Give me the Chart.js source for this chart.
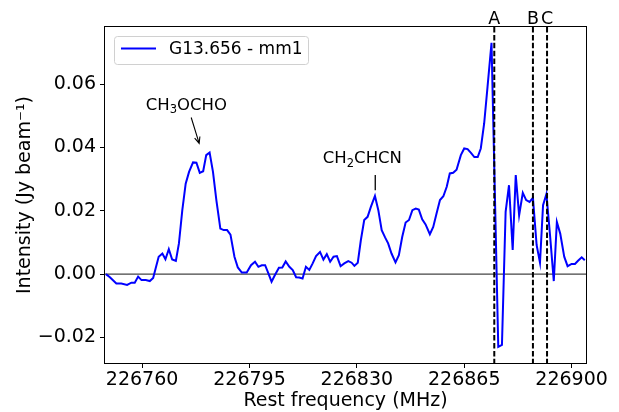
<!DOCTYPE html>
<html>
<head>
<meta charset="utf-8">
<script src="https://cdn.jsdelivr.net/npm/chart.js@4/dist/chart.umd.min.js"></script>
<style>
  body { margin: 0; background: #fff; }
  canvas { display: block; }
</style>
</head>
<body>
<canvas id="chart" width="619" height="412"></canvas>
<script>
// spectrum (MHz, Jy/beam)
const freqs = [
  226748.2, 226749.5, 226751.6, 226753.2, 226755.1, 226756.5, 226757.6, 226758.7, 226759.8, 226761.2,
  226762.5, 226763.6, 226764.4, 226765.4, 226766.6, 226767.6, 226768.7, 226769.8, 226771.0, 226772.0,
  226773.1, 226774.2, 226775.3, 226776.6, 226777.7, 226778.8, 226779.9, 226780.9, 226782.0, 226783.1,
  226784.2, 226785.5, 226786.6, 226787.7, 226788.8, 226790.1, 226791.2, 226792.5, 226794.1, 226795.5,
  226796.8, 226797.9, 226799.0, 226800.1, 226801.1, 226802.2, 226803.3, 226804.6, 226805.7, 226806.8,
  226808.0, 226809.1, 226810.2, 226811.2, 226812.3, 226813.4, 226814.5, 226815.6, 226816.7, 226818.0,
  226819.1, 226820.2, 226821.3, 226822.4, 226823.5, 226824.7, 226825.9, 226827.2, 226828.3, 226829.2,
  226830.3, 226831.3, 226832.4, 226833.5, 226834.6, 226835.9, 226837.0, 226838.1, 226839.2, 226840.2,
  226841.3, 226842.6, 226843.7, 226844.8, 226845.9, 226847.0, 226848.1, 226849.2, 226850.2, 226851.3,
  226852.4, 226853.8, 226854.9, 226856.0, 226857.1, 226858.2, 226859.3, 226860.3, 226861.4, 226862.5,
  226863.9, 226865.0, 226866.1, 226867.2, 226868.3, 226869.4, 226870.4, 226871.5, 226872.6, 226873.9,
  226876.1, 226877.3, 226878.5, 226879.6, 226880.8, 226881.8, 226882.9, 226884.1, 226885.2, 226886.3,
  226887.4, 226888.6, 226889.7, 226890.7, 226891.8, 226893.0, 226894.2, 226895.2, 226896.3, 226897.6,
  226898.7, 226900.0, 226901.1, 226902.1, 226903.3, 226904.3
];
const intensity = [
  0.0000, -0.0010, -0.0030, -0.0030, -0.0034, -0.0027, -0.0027, -0.0008, -0.0019, -0.0019,
  -0.0022, -0.0012, 0.0018, 0.0055, 0.0065, 0.0047, 0.0079, 0.0046, 0.0042, 0.0097,
  0.0202, 0.0286, 0.0323, 0.0353, 0.0352, 0.0320, 0.0325, 0.0376, 0.0384, 0.0323,
  0.0234, 0.0144, 0.0139, 0.0139, 0.0125, 0.0055, 0.0021, 0.0005, 0.0005, 0.0028,
  0.0039, 0.0023, 0.0028, 0.0028, 0.0004, -0.0024, -0.0003, 0.0020, 0.0021, 0.0040,
  0.0023, 0.0013, -0.0010, -0.0011, -0.0014, 0.0023, 0.0013, 0.0034, 0.0057, 0.0070,
  0.0046, 0.0063, 0.0039, 0.0055, 0.0057, 0.0025, 0.0034, 0.0041, 0.0036, 0.0026,
  0.0036, 0.0107, 0.0171, 0.0181, 0.0213, 0.0247, 0.0202, 0.0139, 0.0116, 0.0097,
  0.0065, 0.0037, 0.0060, 0.0118, 0.0163, 0.0171, 0.0202, 0.0207, 0.0204, 0.0173,
  0.0157, 0.0126, 0.0149, 0.0192, 0.0234, 0.0246, 0.0276, 0.0318, 0.0320, 0.0330,
  0.0376, 0.0397, 0.0395, 0.0383, 0.0370, 0.0370, 0.0397, 0.0476, 0.0592, 0.0731,
  -0.0230, -0.0224, 0.0197, 0.0281, 0.0076, 0.0313, 0.0186, 0.0257, 0.0234, 0.0228,
  0.0241, 0.0092, 0.0036, 0.0218, 0.0253, 0.0120, -0.0022, 0.0165, 0.0128, 0.0055,
  0.0025, 0.0032, 0.0032, 0.0042, 0.0053, 0.0044
];

const xTicks = [226760, 226795, 226830, 226865, 226900];
const xTickLabels = ["226760", "226795", "226830", "226865", "226900"];
const yTicks = [-0.02, 0, 0.02, 0.04, 0.06];
const yTickLabels = ["\u22120.02", "0.00", "0.02", "0.04", "0.06"];

// dashed marker lines
const markerFreqs = [226874.8, 226887.4, 226892.0];
const markerLabels = ["A", "B", "C"];

const seriesName = "G13.656 - mm1";

const FONT = "'DejaVu Sans', sans-serif";

// text with subscripts, centred on cx
function drawChem(ctx, parts, cx, baseY, size) {
    let w = 0;
    parts.forEach(p => {
        ctx.font = (p[1] ? size * 0.7 : size) + "px " + FONT;
        w += ctx.measureText(p[0]).width;
    });
    let xPos = cx - w / 2;
    ctx.textAlign = "left";
    ctx.textBaseline = "alphabetic";
    parts.forEach(p => {
        ctx.font = (p[1] ? size * 0.7 : size) + "px " + FONT;
        ctx.fillText(p[0], xPos, baseY + (p[1] ? size * 0.22 : 0));
        xPos += ctx.measureText(p[0]).width;
    });
}

const extras = {
    id: "extras",
    beforeDatasetsDraw(chart) {
        const {ctx, chartArea: a, scales: {y}} = chart;
        ctx.save();
        ctx.strokeStyle = "#444";
        ctx.lineWidth = 1.2;
        const y0 = y.getPixelForValue(0);
        ctx.beginPath();
        ctx.moveTo(a.left, y0);
        ctx.lineTo(a.right, y0);
        ctx.stroke();
        ctx.restore();
    },
    afterDatasetsDraw(chart) {
        const {ctx, chartArea: a, scales: {x, y}} = chart;
        ctx.save();

        // marker lines
        ctx.strokeStyle = "#000";
        ctx.lineWidth = 2;
        ctx.setLineDash([5.5, 2.4]);
        markerFreqs.forEach((f, i) => {
            const px = x.getPixelForValue(f);
            ctx.beginPath();
            ctx.moveTo(px, a.top);
            ctx.lineTo(px, a.bottom);
            ctx.stroke();
            ctx.fillStyle = "#000";
            ctx.font = "17.5px " + FONT;
            ctx.textAlign = "center";
            ctx.textBaseline = "alphabetic";
            ctx.fillText(markerLabels[i], px, a.top - 3);
        });
        ctx.setLineDash([]);

        // frame
        ctx.lineWidth = 1;
        ctx.strokeRect(a.left - 0.5, a.top - 0.5, a.width + 1, a.height + 1);

        // annotations
        ctx.fillStyle = "#000";
        drawChem(ctx, [["CH", 0], ["3", 1], ["OCHO", 0]],
            x.getPixelForValue(226774.4), y.getPixelForValue(0.0520), 16.5);
        drawChem(ctx, [["CH", 0], ["2", 1], ["CHCN", 0]],
            x.getPixelForValue(226831.8), y.getPixelForValue(0.0350), 16.5);

        // arrow to methyl formate
        const tx = x.getPixelForValue(226776.0), ty = y.getPixelForValue(0.0495);
        const hx = x.getPixelForValue(226778.6), hy = y.getPixelForValue(0.0413);
        const ang = Math.atan2(hy - ty, hx - tx);
        ctx.lineWidth = 1.1;
        ctx.beginPath();
        ctx.moveTo(tx, ty);
        ctx.lineTo(hx, hy);
        ctx.moveTo(hx - 7 * Math.cos(ang - 0.4), hy - 7 * Math.sin(ang - 0.4));
        ctx.lineTo(hx, hy);
        ctx.lineTo(hx - 7 * Math.cos(ang + 0.4), hy - 7 * Math.sin(ang + 0.4));
        ctx.stroke();

        // tick under vinyl cyanide
        const vx = x.getPixelForValue(226836.0);
        ctx.lineWidth = 1.3;
        ctx.beginPath();
        ctx.moveTo(vx, y.getPixelForValue(0.0313));
        ctx.lineTo(vx, y.getPixelForValue(0.0265));
        ctx.stroke();

        // legend
        ctx.fillStyle = "rgba(255,255,255,0.8)";
        ctx.strokeStyle = "#d0d0d0";
        ctx.lineWidth = 1;
        ctx.beginPath();
        ctx.roundRect(114.5, 36.5, 194, 28, 3);
        ctx.fill();
        ctx.stroke();
        ctx.strokeStyle = "#0000ff";
        ctx.lineWidth = 2;
        ctx.beginPath();
        ctx.moveTo(121, 48.5);
        ctx.lineTo(156, 48.5);
        ctx.stroke();
        ctx.fillStyle = "#000";
        ctx.font = "17px " + FONT;
        ctx.textAlign = "left";
        ctx.textBaseline = "middle";
        ctx.fillText(seriesName, 169, 50);

        ctx.restore();
    }
};

const points = freqs.map((f, i) => ({x: f, y: intensity[i]}));

new Chart(document.getElementById("chart").getContext("2d"), {
    type: "line",
    data: {
        datasets: [{
            label: seriesName,
            data: points,
            borderColor: "#0000ff",
            borderWidth: 2,
            pointRadius: 0,
            tension: 0,
            fill: false
        }]
    },
    options: {
        responsive: false,
        animation: false,
        layout: { padding: { left: 0, top: 27, right: 33, bottom: 0 } },
        plugins: { legend: { display: false }, tooltip: { enabled: false } },
        scales: {
            x: {
                type: "linear",
                min: 226747.9,
                max: 226904.7,
                afterBuildTicks: s => { s.ticks = xTicks.map(v => ({value: v})); },
                afterFit: s => { s.height = 49; },
                ticks: {
                    color: "#000",
                    font: { family: FONT, size: 19 },
                    padding: 1,
                    maxRotation: 0,
                    callback: (v, i) => xTickLabels[i]
                },
                grid: { drawOnChartArea: false, drawTicks: true, tickLength: 5, color: "#000" },
                border: { display: false },
                title: {
                    display: true,
                    text: "Rest frequency (MHz)",
                    color: "#000",
                    font: { family: FONT, size: 19, lineHeight: 1.1 },
                    padding: { top: 0, bottom: 0 }
                }
            },
            y: {
                type: "linear",
                min: -0.0281,
                max: 0.0781,
                afterBuildTicks: s => { s.ticks = yTicks.map(v => ({value: v})); },
                afterFit: s => { s.width = 105; },
                ticks: {
                    color: "#000",
                    font: { family: FONT, size: 19 },
                    padding: 4,
                    callback: (v, i) => yTickLabels[i]
                },
                grid: { drawOnChartArea: false, drawTicks: true, tickLength: 5, color: "#000" },
                border: { display: false },
                title: {
                    display: true,
                    text: "Intensity (Jy beam\u207B\u00B9)",
                    color: "#000",
                    font: { family: FONT, size: 19, lineHeight: 1.2 },
                    padding: { top: 13.5, bottom: 0 }
                }
            }
        }
    },
    plugins: [extras]
});
</script>
</body>
</html>
